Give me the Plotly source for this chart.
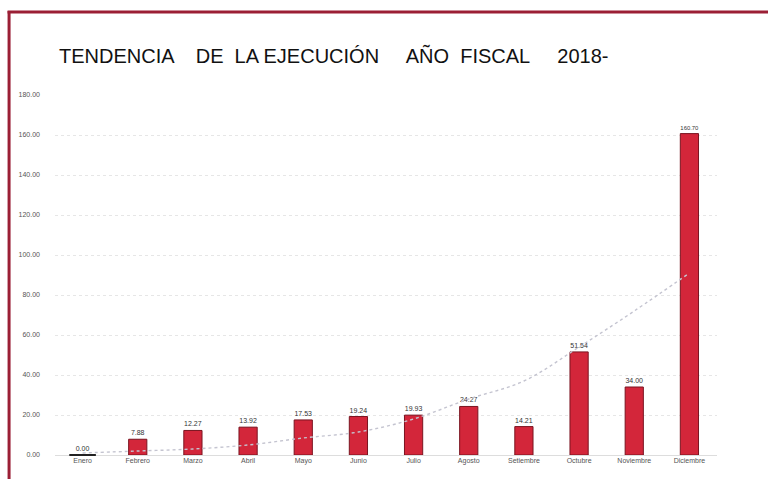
import plotly.graph_objects as go

meses = ["Enero", "Febrero", "Marzo", "Abril", "Mayo", "Junio", "Julio",
         "Agosto", "Setiembre", "Octubre", "Noviembre", "Diciembre"]
ejecucion = [0.00, 7.88, 12.27, 13.92, 17.53, 19.24, 19.93,
             24.27, 14.21, 51.54, 34.00, 160.70]
tendencia = [1.0, 2.0, 3.0, 5.0, 8.5, 11.5, 18.0, 28.0, 37.0, 54.0, 72.0, 91.0]
y_ticks = [0, 20, 40, 60, 80, 100, 120, 140, 160, 180]
titulo = "TENDENCIA    DE  LA EJECUCIÓN     AÑO  FISCAL     2018-"

L, R, T, B = 54.5, 50.5, 95, 24
W, H = 768, 479
pw, ph = W - L - R, H - T - B

def px_x(px):
    return (px - L) / pw

def px_y(py):
    return (H - B - py) / ph

fig = go.Figure()
fig.add_trace(go.Bar(
    x=meses, y=ejecucion, width=0.33,
    marker=dict(color="#d3263a", line=dict(color="#7a1420", width=1)),
    text=[f"{v:.2f}" for v in ejecucion], textposition="outside",
    textfont=dict(size=7, color="#333333", family="Liberation Sans"),
    cliponaxis=False, showlegend=False,
))
# outline of the zero-height bar (Enero)
fig.add_trace(go.Scatter(
    x=[m for m, v in zip(meses, ejecucion) if v == 0],
    y=[v for v in ejecucion if v == 0],
    mode="markers", marker=dict(symbol="line-ew", size=19,
                                line=dict(color="#222222", width=2)),
    showlegend=False, hoverinfo="skip", cliponaxis=False,
))
fig.add_trace(go.Scatter(
    x=meses, y=tendencia, mode="lines", line_shape="spline",
    line=dict(color="#c4c4d0", width=1.4, dash="dot"),
    showlegend=False, hoverinfo="skip",
))

fig.update_layout(
    width=W, height=H,
    margin=dict(l=L, r=R, t=T, b=B),
    plot_bgcolor="white", paper_bgcolor="white",
    bargap=0.5,
    font=dict(family="Liberation Sans", color="#444444"),
    xaxis=dict(range=[-0.5, len(meses) - 0.5],
               showgrid=False, showline=False, ticks="", automargin=False,
               tickfont=dict(size=7, color="#555555")),
    yaxis=dict(range=[0, 180], tickvals=y_ticks,
               ticktext=[f"{v:.2f}" for v in y_ticks],
               showgrid=True, gridcolor="#e6e6e6", griddash="dot", gridwidth=1,
               zeroline=True, zerolinecolor="#dddddd", zerolinewidth=1,
               showline=False, ticks="", ticklabelstandoff=14, automargin=False,
               tickfont=dict(size=7, color="#555555")),
    shapes=[
        dict(type="line", xref="paper", yref="paper",
             x0=px_x(7), x1=px_x(770), y0=px_y(12), y1=px_y(12),
             line=dict(color="#9b1f35", width=3)),
        dict(type="line", xref="paper", yref="paper",
             x0=px_x(8.5), x1=px_x(8.5), y0=px_y(11), y1=px_y(481),
             line=dict(color="#9b1f35", width=3)),
    ],
    annotations=[
        dict(text=titulo, xref="paper", yref="paper",
             x=px_x(57), y=px_y(56), xanchor="left", yanchor="middle",
             showarrow=False,
             font=dict(size=20, color="#111111", family="Liberation Sans")),
    ],
)
fig.write_html("out.html", config={"displayModeBar": False},
               post_script="document.body.style.margin='0';")
